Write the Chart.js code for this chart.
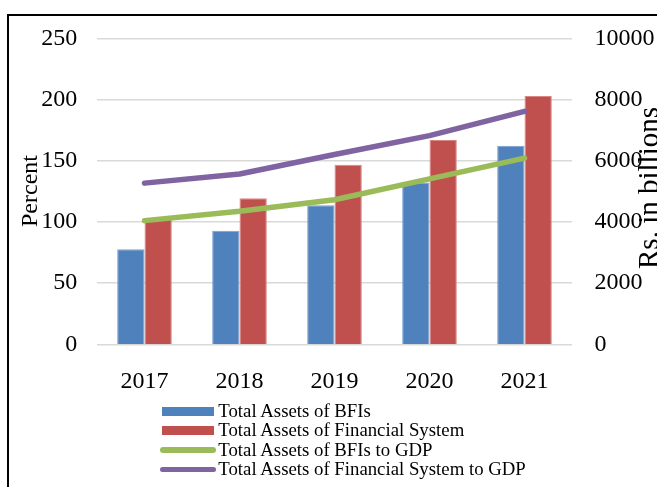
<!DOCTYPE html>
<html>
<head>
<meta charset="utf-8">
<script src="https://cdn.jsdelivr.net/npm/chart.js@4.4.1/dist/chart.umd.min.js"></script>
<style>
  html, body { margin: 0; padding: 0; background: #fff; overflow: hidden; }
  #wrap { position: relative; width: 657px; height: 487px; overflow: hidden; }
  #frame { position: absolute; left: 7px; top: 14px; width: 720px; height: 560px;
           border-left: 2px solid #000; border-top: 2px solid #000; }
  #chart { position: absolute; left: 0; top: 0; }
  .row { position: absolute; left: 161.7px; height: 19.4px; line-height: 19.4px;
         font-family: "Liberation Serif", "Times New Roman", serif; font-size: 18.8px;
         color: #000; white-space: nowrap; }
  .sw { position: absolute; left: 0; }
  .lbl { position: absolute; left: 56.6px; top: 0; }
</style>
</head>
<body>
<div id="wrap">
  <div id="frame"></div>
  <canvas id="chart" width="657" height="487"></canvas>
  <div id="legend"></div>
</div>
<script>
// Years on the category axis
const years = ['2017', '2018', '2019', '2020', '2021'];
// Total assets, Rs. in billions (right axis)
const assetsBFIs = [3110, 3720, 4550, 5300, 6500];
const assetsFinSystem = [4100, 4780, 5880, 6690, 8130];
// Ratios to GDP, percent (left axis)
const bfisToGDP = [101.2, 108.8, 118.3, 135.4, 152.4];
const finSystemToGDP = [131.9, 139.4, 155.3, 170.8, 190.6];
// Axis ranges
const percentRange = { min: 0, max: 250, step: 50 };
const rsRange = { min: 0, max: 10000, step: 2000 };

const serif = '"Liberation Serif", "Times New Roman", serif';
Chart.defaults.font.family = serif;
Chart.defaults.color = '#000';

const axisTitles = {
  id: 'axisTitles',
  afterDraw(chart) {
    const ctx = chart.ctx;
    ctx.save();
    ctx.fillStyle = '#000';
    ctx.textAlign = 'center';
    ctx.textBaseline = 'alphabetic';
    ctx.font = '24px ' + serif;
    ctx.translate(36.5, 191);
    ctx.rotate(-Math.PI / 2);
    ctx.fillText('Percent', 0, 0);
    ctx.restore();

    ctx.save();
    ctx.fillStyle = '#000';
    ctx.textAlign = 'center';
    ctx.textBaseline = 'alphabetic';
    ctx.font = '29px ' + serif;
    ctx.translate(658, 188);
    ctx.rotate(-Math.PI / 2);
    ctx.fillText('Rs. in billions', 0, 0);
    ctx.restore();
  }
};

const plainNumber = v => String(v);

const chart = new Chart(document.getElementById('chart'), {
  type: 'bar',
  data: {
    labels: years,
    datasets: [
      {
        type: 'bar', label: 'Total Assets of BFIs', data: assetsBFIs,
        backgroundColor: '#4F81BD', borderColor: '#7A9FD0', borderWidth: 1,
        yAxisID: 'y1', order: 2,
        categoryPercentage: 0.575, barPercentage: 1
      },
      {
        type: 'bar', label: 'Total Assets of Financial System', data: assetsFinSystem,
        backgroundColor: '#C0504D', borderColor: '#D98784', borderWidth: 1,
        yAxisID: 'y1', order: 2,
        categoryPercentage: 0.575, barPercentage: 1
      },
      {
        type: 'line', label: 'Total Assets of BFIs to GDP', data: bfisToGDP,
        borderColor: '#9BBB59', backgroundColor: '#9BBB59', borderWidth: 5.5,
        borderCapStyle: 'round', borderJoinStyle: 'round',
        pointRadius: 0, tension: 0, yAxisID: 'y', order: 1
      },
      {
        type: 'line', label: 'Total Assets of Financial System to GDP', data: finSystemToGDP,
        borderColor: '#8064A2', backgroundColor: '#8064A2', borderWidth: 5.5,
        borderCapStyle: 'round', borderJoinStyle: 'round',
        pointRadius: 0, tension: 0, yAxisID: 'y', order: 1
      }
    ]
  },
  options: {
    responsive: false,
    animation: false,
    layout: { padding: { top: 38.8, left: 0, right: 0, bottom: 97.7 } },
    plugins: { legend: { display: false }, tooltip: { enabled: false } },
    scales: {
      x: {
        grid: { display: false },
        border: { display: false },
        ticks: { font: { size: 24 }, padding: 14.6, color: '#000' },
        afterFit(scale) { scale.height = 45; }
      },
      y: {
        position: 'left',
        min: percentRange.min, max: percentRange.max,
        grid: { color: '#D9D9D9', lineWidth: 1.5, drawTicks: false },
        border: { display: false },
        ticks: { stepSize: percentRange.step, font: { size: 24 }, padding: 19.7, color: '#000',
                 callback: plainNumber },
        afterFit(scale) { scale.width = 97; }
      },
      y1: {
        position: 'right',
        min: rsRange.min, max: rsRange.max,
        grid: { display: false, drawTicks: false },
        border: { display: false },
        ticks: { stepSize: rsRange.step, font: { size: 24 }, padding: 22.5, color: '#000',
                 callback: plainNumber },
        afterFit(scale) { scale.width = 85; }
      }
    }
  },
  plugins: [axisTitles]
});

// Legend listing, one row per series
const legend = document.getElementById('legend');
chart.data.datasets.forEach((ds, i) => {
  const row = document.createElement('div');
  row.className = 'row';
  row.style.top = (400.8 + 19.4 * i) + 'px';
  const sw = document.createElement('span');
  sw.className = 'sw';
  sw.style.background = ds.backgroundColor;
  if (ds.type === 'bar') {
    sw.style.width = '52.6px'; sw.style.height = '9px'; sw.style.top = '5.9px';
  } else {
    sw.style.left = '-1.5px';
    sw.style.width = '55.6px'; sw.style.height = '5.5px'; sw.style.top = '7.6px';
    sw.style.borderRadius = '3px';
  }
  const lbl = document.createElement('span');
  lbl.className = 'lbl';
  lbl.textContent = ds.label;
  row.appendChild(sw);
  row.appendChild(lbl);
  legend.appendChild(row);
});
</script>
</body>
</html>
